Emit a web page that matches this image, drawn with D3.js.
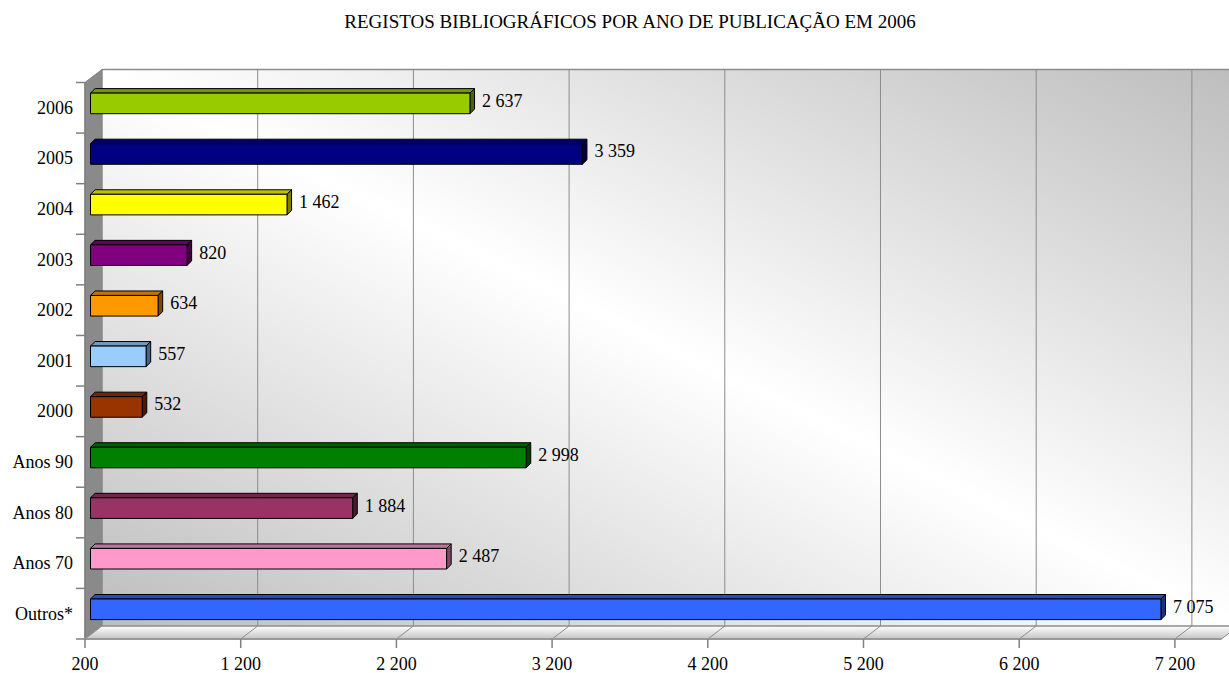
<!DOCTYPE html>
<html><head><meta charset="utf-8">
<script src="https://cdn.jsdelivr.net/npm/d3@7"></script>
<style>html,body{margin:0;padding:0;background:#fff;}svg{display:block;}</style>
</head><body>
<svg id="chart" width="1229" height="673"></svg>
<script>
const title = "REGISTOS BIBLIOGRÁFICOS POR ANO DE PUBLICAÇÃO EM 2006";
const categories = ["2006","2005","2004","2003","2002","2001","2000","Anos 90","Anos 80","Anos 70","Outros*"];
const values = [2637,3359,1462,820,634,557,532,2998,1884,2487,7075];
const colors = ["#99CC00","#000080","#FFFF00","#800080","#FF9900","#99CCFF","#993300","#008000","#993366","#FF99CC","#3366FF"];
const tickValues = [200,1200,2200,3200,4200,5200,6200,7200];
const axisMin = 200, axisMax = 7500;

(function(){
const svg = d3.select("#chart");
const FONT = "'Liberation Serif','Times New Roman',serif";
const fmt = d3.formatLocale({decimal:",",thousands:" ",grouping:[3],currency:["",""]}).format(",d");

// geometry
const pLeft = 85, pRight = 1221.6, pTop = 82.5, pBottom = 639;
const DX = 17, DY = -13;          // wall depth
const BO = {x:5.5, y:-4.4};      // bar front-face offset
const BD = {x:4.6, y:-4.5};      // bar depth

const x = d3.scaleLinear().domain([axisMin, axisMax]).range([pLeft, pRight]);
const y = d3.scaleBand().domain(categories).range([pTop, pBottom]).padding(0);

const defs = svg.append("defs");
const wallGrad = defs.append("linearGradient").attr("id","wallGrad")
  .attr("x1",0).attr("y1",1).attr("x2",1).attr("y2",0);
wallGrad.append("stop").attr("offset",0).attr("stop-color","#bdbdbd");
wallGrad.append("stop").attr("offset",0.5).attr("stop-color","#ffffff");
wallGrad.append("stop").attr("offset",1).attr("stop-color","#bdbdbd");
const floorGrad = defs.append("linearGradient").attr("id","floorGrad")
  .attr("x1",0).attr("y1",0).attr("x2",0).attr("y2",1);
floorGrad.append("stop").attr("offset",0).attr("stop-color","#ffffff");
floorGrad.append("stop").attr("offset",1).attr("stop-color","#c4c4c4");

const pts = a => a.map(p=>p.join(",")).join(" ");

// title
svg.append("text").attr("x",630).attr("y",28).attr("text-anchor","middle")
  .attr("font-family",FONT).attr("font-size",19).attr("fill","#000").text(title);

// back wall
svg.append("rect").attr("x",pLeft+DX).attr("y",pTop+DY)
  .attr("width",x(axisMax)-pLeft).attr("height",pBottom-pTop)
  .attr("fill","url(#wallGrad)");
// side wall
svg.append("polygon")
  .attr("points",pts([[pLeft,pTop],[pLeft+DX,pTop+DY],[pLeft+DX,pBottom+DY],[pLeft,pBottom]]))
  .attr("fill","#8a8a8a").attr("stroke","#808080").attr("stroke-width",1);
// floor
svg.append("polygon")
  .attr("points",pts([[pLeft,pBottom],[pLeft+DX,pBottom+DY],[x(axisMax)+DX,pBottom+DY],[x(axisMax),pBottom]]))
  .attr("fill","url(#floorGrad)");

// gridlines (back wall + floor)
const grid = svg.append("g").attr("stroke","#8c8c8c").attr("stroke-width",1).attr("fill","none");
tickValues.forEach(v=>{
  const xx = x(v);
  grid.append("line").attr("x1",xx+DX).attr("x2",xx+DX).attr("y1",pTop+DY).attr("y2",pBottom+DY);
  grid.append("line").attr("x1",xx+DX).attr("x2",xx).attr("y1",pBottom+DY).attr("y2",pBottom);
});
grid.append("line").attr("x1",pLeft+DX).attr("x2",x(axisMax)+DX).attr("y1",pTop+DY).attr("y2",pTop+DY).attr("stroke-width",1.5);
grid.append("line").attr("x1",pLeft+DX).attr("x2",x(axisMax)+DX).attr("y1",pBottom+DY).attr("y2",pBottom+DY).attr("stroke-width",1.5);
grid.append("line").attr("x1",x(axisMax)).attr("x2",x(axisMax)+DX).attr("y1",pBottom).attr("y2",pBottom+DY);

// bars
const bh = 20.6;
const bars = svg.append("g");
categories.forEach((c,i)=>{
  const v = values[i];
  const yc = y(c) + y.bandwidth()/2;
  const x0 = x(axisMin)+BO.x, x1 = x(v)+BO.x;
  const yt = yc - bh/2 + BO.y, yb = yc + bh/2 + BO.y;
  const col = d3.color(colors[i]);
  const g = bars.append("g").attr("stroke","#000").attr("stroke-width",1).attr("stroke-linejoin","round");
  g.append("polygon").attr("points",pts([[x0,yt],[x0+BD.x,yt+BD.y],[x1+BD.x,yt+BD.y],[x1,yt]]))
    .attr("fill",col.darker(0.8));
  g.append("polygon").attr("points",pts([[x1,yt],[x1+BD.x,yt+BD.y],[x1+BD.x,yb+BD.y],[x1,yb]]))
    .attr("fill",col.darker(2));
  g.append("rect").attr("x",x0).attr("y",yt).attr("width",x1-x0).attr("height",yb-yt).attr("fill",colors[i]);
  svg.append("text").attr("x",x1+BD.x+7.5).attr("y",yc-7+6)
    .attr("font-family",FONT).attr("font-size",18).attr("fill","#000").text(fmt(v));
});

// left axis
const yAxisG = svg.append("g");
yAxisG.append("line").attr("x1",pLeft).attr("x2",pLeft).attr("y1",pTop).attr("y2",pBottom).attr("stroke","#808080").attr("stroke-width",1.5);
const bounds = categories.map(c=>y(c)).concat([pBottom]);
bounds.forEach(b=>{
  yAxisG.append("line").attr("x1",pLeft-9).attr("x2",pLeft).attr("y1",b).attr("y2",b).attr("stroke","#808080").attr("stroke-width",1.5);
});
categories.forEach(c=>{
  yAxisG.append("text").attr("x",73).attr("y",y(c)+y.bandwidth()/2+6).attr("text-anchor","end")
    .attr("font-family",FONT).attr("font-size",18).attr("fill","#000").text(c);
});

// bottom axis
const xAxisG = svg.append("g");
xAxisG.append("line").attr("x1",pLeft).attr("x2",x(axisMax)).attr("y1",pBottom).attr("y2",pBottom).attr("stroke","#999").attr("stroke-width",2);
tickValues.forEach(v=>{
  xAxisG.append("line").attr("x1",x(v)).attr("x2",x(v)).attr("y1",pBottom).attr("y2",pBottom+9).attr("stroke","#808080").attr("stroke-width",1.5);
  xAxisG.append("text").attr("x",x(v)).attr("y",670).attr("text-anchor","middle")
    .attr("font-family",FONT).attr("font-size",18).attr("fill","#000").text(fmt(v));
});
})();
</script>
</body></html>
